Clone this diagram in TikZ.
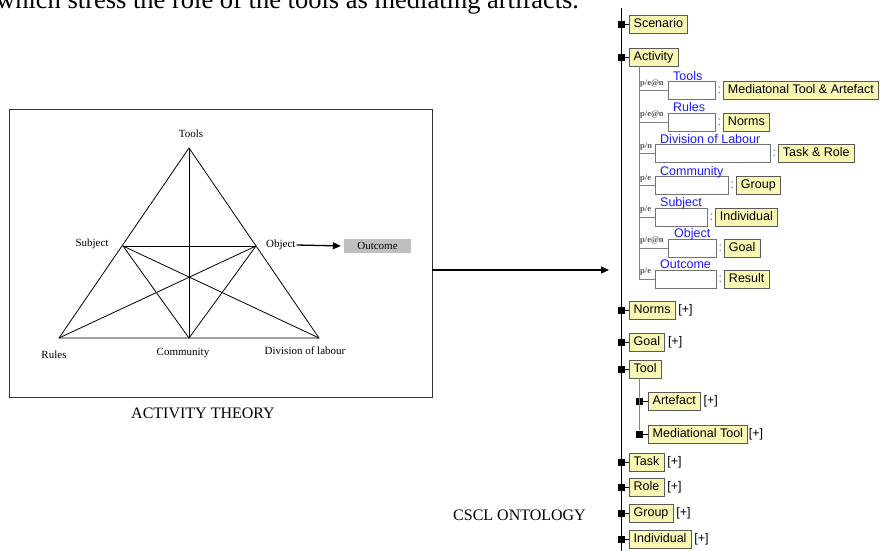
\documentclass[tikz,border=0pt]{standalone}
\usepackage{fontspec}
\setmainfont{Liberation Serif}
\newfontfamily\arialfont{Liberation Sans}
\usetikzlibrary{arrows.meta,positioning}

\definecolor{conceptyellow}{RGB}{250,246,180}
\definecolor{roleblue}{RGB}{25,25,255}
\def\treefont{\arialfont\fontsize{12.5}{14}\selectfont}

\begin{document}
\begin{tikzpicture}[x=1pt,y=-1pt]
    \tikzstyle{corner}=[font=\fontsize{11}{13}\selectfont, inner sep=1pt]
    \tikzstyle{edge}=[draw=black, line width=0.8pt]
    \tikzstyle{caption}=[font=\fontsize{16}{18}\selectfont, inner sep=1pt]
    \tikzstyle{knot}=[fill=black, minimum size=7pt, inner sep=0pt]
    \tikzstyle{concept}=[draw=black!65, fill=conceptyellow, font=\treefont, anchor=west, inner xsep=4.5pt, inner ysep=0pt, text height=9pt, text depth=2.5pt, minimum height=18pt]
    \tikzstyle{slotbox}=[draw=black!55, fill=white, anchor=west, minimum height=18pt, inner sep=0pt]
    \tikzstyle{rolename}=[font=\treefont, text=roleblue, anchor=base west, inner sep=0pt]
    \tikzstyle{card}=[font=\fontsize{8.5}{9}\selectfont\bfseries, text=black!65, anchor=base west, inner sep=0pt]
    \tikzstyle{colon}=[font=\treefont, text=black!55, inner sep=0pt]
    \tikzstyle{more}=[font=\treefont, anchor=west, inner sep=0pt]
    \tikzstyle{twig}=[draw=black, line width=0.8pt]
    \tikzstyle{branch}=[draw=black!50, line width=0.8pt]

    \useasboundingbox (0,0) rectangle (885,550);

    % sentence of the page, cut at the top
    \node[anchor=base west, inner sep=0pt, font=\fontsize{26.5}{28}\selectfont] (intro) at (-4,8) {which stress the role of the tools as mediating artifacts.};

    % activity theory triangle
    \node[draw=black!80, line width=0.8pt, minimum width=423pt, minimum height=288pt, inner sep=0pt] (frame) at (220.5,253) {};
    \coordinate (apex) at (189,148);
    \coordinate (subj) at (123,246);
    \coordinate (obj) at (256,246);
    \coordinate (rules) at (59,338);
    \coordinate (comm) at (189,338);
    \coordinate (div) at (319,338);

    \draw[edge] (apex) -- (rules) -- (div) -- cycle;
    \draw[edge] (subj) -- (obj) (apex) -- (comm);
    \draw[edge] (subj) -- (comm) -- (obj);
    \draw[edge] (subj) -- (div) (obj) -- (rules);

    \node[corner] (toolsL) at (191,134) {Tools};
    \node[corner] (subjL) at (92,244) {Subject};
    \node[corner, anchor=west] (objL) at (265,245) {Object};
    \node[corner] (rulesL) at (54,355) {Rules};
    \node[corner] (commL) at (183,353) {Community};
    \node[corner] (divL) at (305,351) {Division of labour};
    \node[fill=black!25, minimum width=67pt, minimum height=14pt, inner sep=0pt, font=\fontsize{11}{13}\selectfont] (outc) at (377.5,246) {Outcome};
    \draw[line width=1.3pt, shorten >=3pt, -{Triangle[length=8pt,width=7pt]}] (objL.east) -- (outc.west);

    \node[caption] (atcap) at (203,413) {ACTIVITY THEORY};

    % mapping arrow
    \coordinate (bridge) at (609,270);
    \draw[line width=1.2pt, -{Triangle[length=8pt,width=7pt]}] (frame.east |- bridge) -- (bridge);

    \node[caption, anchor=east] (oncap) at (587,515) {CSCL ONTOLOGY};

    % ontology tree
    \coordinate (trunktop) at (621,8);
    \coordinate (trunkbot) at (621,551);
    \draw[twig] (trunktop) -- (trunkbot);

    \node[knot] (k0) at (621,24) {};
    \node[concept] (scen) at (629,24) {Scenario};
    \draw[twig] (k0) -- (scen);

    \node[knot] (k1) at (621,57) {};
    \node[concept] (act) at (629,57) {Activity};
    \draw[twig] (k1) -- (act);

    \coordinate (acttop) at (639,66);
    \coordinate (actend) at (639,280);
    \draw[branch] (acttop) -- (actend);

    % slots of the activity
    \node[slotbox, minimum width=47pt] (s1) at (668,90.5) {};
    \node[card] (c1) at (640,85) {p/e@n};
    \node[rolename] (r1) at (673,80) {Tools};
    \node[colon, right=2pt of s1] (p1) {:};
    \node[concept, right=2pt of p1] (y1) {Mediatonal Tool \& Artefact};
    \draw[branch] (s1.west -| acttop) -- (s1.west);

    \node[slotbox, minimum width=47pt] (s2) at (668,122) {};
    \node[card] (c2) at (640,116.5) {p/e@n};
    \node[rolename] (r2) at (673,111) {Rules};
    \node[colon, right=2pt of s2] (p2) {:};
    \node[concept, right=2pt of p2] (y2) {Norms};
    \draw[branch] (s2.west -| acttop) -- (s2.west);

    \node[slotbox, minimum width=115pt] (s3) at (655,153.5) {};
    \node[card] (c3) at (640,148) {p/n};
    \node[rolename] (r3) at (660,143) {Division of Labour};
    \node[colon, right=2pt of s3] (p3) {:};
    \node[concept, right=2pt of p3] (y3) {Task \& Role};
    \draw[branch] (s3.west -| acttop) -- (s3.west);

    \node[slotbox, minimum width=73pt] (s4) at (655,185.5) {};
    \node[card] (c4) at (640,180) {p/e};
    \node[rolename] (r4) at (660,175) {Community};
    \node[colon, right=2pt of s4] (p4) {:};
    \node[concept, right=2pt of p4] (y4) {Group};
    \draw[branch] (s4.west -| acttop) -- (s4.west);

    \node[slotbox, minimum width=52pt] (s5) at (655,217) {};
    \node[card] (c5) at (640,211.5) {p/e};
    \node[rolename] (r5) at (660,206) {Subject};
    \node[colon, right=2pt of s5] (p5) {:};
    \node[concept, right=2pt of p5] (y5) {Individual};
    \draw[branch] (s5.west -| acttop) -- (s5.west);

    \node[slotbox, minimum width=48pt] (s6) at (668,248) {};
    \node[card] (c6) at (640,242.5) {p/e@n};
    \node[rolename] (r6) at (674,237) {Object};
    \node[colon, right=2pt of s6] (p6) {:};
    \node[concept, right=2pt of p6] (y6) {Goal};
    \draw[branch] (s6.west -| acttop) -- (s6.west);

    \node[slotbox, minimum width=61pt] (s7) at (655,279) {};
    \node[card] (c7) at (640,273.5) {p/e};
    \node[rolename] (r7) at (660,268) {Outcome};
    \node[colon, right=2pt of s7] (p7) {:};
    \node[concept, right=2pt of p7] (y7) {Result};
    \draw[branch] (s7.west -| acttop) -- (s7.west);

    % other concepts
    \node[knot] (k2) at (621,310) {};
    \node[concept] (norms) at (629,310) {Norms};
    \node[more, right=3pt of norms] (m2) {[+]};
    \draw[twig] (k2) -- (norms);

    \node[knot] (k3) at (621,342) {};
    \node[concept] (goal) at (629,342) {Goal};
    \node[more, right=3pt of goal] (m3) {[+]};
    \draw[twig] (k3) -- (goal);

    \node[knot] (k4) at (621,369) {};
    \node[concept] (tool) at (629,369) {Tool};
    \draw[twig] (k4) -- (tool);

    \coordinate (tooltop) at (639,378);
    \node[knot] (k5) at (639,401) {};
    \node[concept] (artef) at (648,401) {Artefact};
    \node[more, right=3pt of artef] (m5) {[+]};
    \draw[twig] (k5) -- (artef);

    \node[knot] (k6) at (639,434) {};
    \node[concept] (medtool) at (648,434) {Mediational Tool};
    \node[more, right=1pt of medtool] (m6) {[+]};
    \draw[twig] (k6) -- (medtool);
    \draw[branch] (tooltop) -- (k6);

    \node[knot] (k7) at (621,462) {};
    \node[concept] (task) at (629,462) {Task};
    \node[more, right=3pt of task] (m7) {[+]};
    \draw[twig] (k7) -- (task);

    \node[knot] (k8) at (621,487) {};
    \node[concept] (role) at (629,487) {Role};
    \node[more, right=3pt of role] (m8) {[+]};
    \draw[twig] (k8) -- (role);

    \node[knot] (k9) at (621,513) {};
    \node[concept] (group) at (629,513) {Group};
    \node[more, right=3pt of group] (m9) {[+]};
    \draw[twig] (k9) -- (group);

    \node[knot] (k10) at (621,539) {};
    \node[concept] (indiv) at (629,539) {Individual};
    \node[more, right=3pt of indiv] (m10) {[+]};
    \draw[twig] (k10) -- (indiv);
\end{tikzpicture}
\end{document}
